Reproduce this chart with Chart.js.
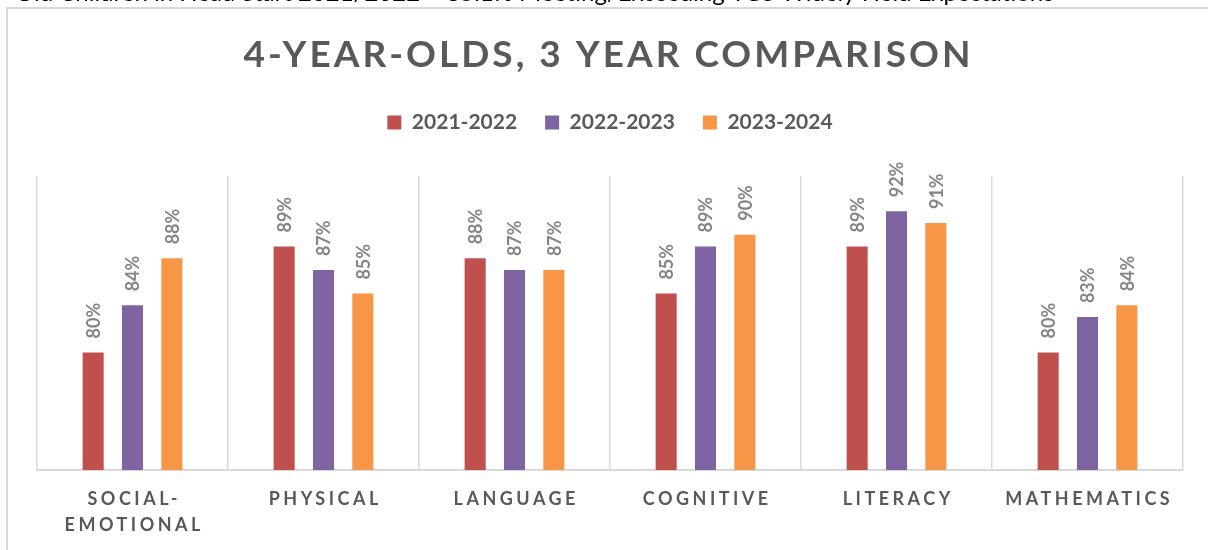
<!DOCTYPE html>
<html>
<head>
<meta charset="utf-8">
<script src="https://cdn.jsdelivr.net/npm/chart.js@4.4.1/dist/chart.umd.min.js"></script>
<style>
html, body { margin: 0; padding: 0; background: #fff; overflow: hidden; }
canvas { display: block; }
</style>
</head>
<body>
<canvas id="myChart" width="1208" height="550"></canvas>
<script>
// data
const categories = [['SOCIAL-', 'EMOTIONAL'], 'PHYSICAL', 'LANGUAGE', 'COGNITIVE', 'LITERACY', 'MATHEMATICS']
const years = ['2021-2022', '2022-2023', '2023-2024']
const values2122 = [80, 89, 88, 85, 89, 80]
const values2223 = [84, 87, 87, 89, 92, 83]
const values2324 = [88, 85, 87, 90, 91, 84]
const barColors = ['#c0504d', '#8064a2', '#f79646']
const chartTitle = '4-YEAR-OLDS, 3 YEAR COMPARISON'
const pageLine = 'Old Children in Head Start 2021/2022 \u2013 85.1% Meeting/Exceeding TGS Widely Held Expectations'

const textGrey = '#595959'

// draws the page line, frame, title, category labels and value labels
const decorations = {
  id: 'decorations',
  beforeDraw(chart) {
    const ctx = chart.ctx
    ctx.save()
    ctx.fillStyle = '#fff'
    ctx.fillRect(0, 0, chart.width, chart.height)
    ctx.fillStyle = '#000'
    ctx.font = '24px Lato'
    ctx.textBaseline = 'alphabetic'
    ctx.textAlign = 'left'
    ctx.fillText(pageLine, 15, 1)
    ctx.strokeStyle = '#d9d9d9'
    ctx.lineWidth = 2
    ctx.strokeRect(7, 8, 1400, 800)
    ctx.restore()
  },
  afterDraw(chart) {
    const ctx = chart.ctx
    const xScale = chart.scales.x

    // title
    ctx.save()
    ctx.fillStyle = textGrey
    ctx.font = 'bold 37px Lato'
    ctx.letterSpacing = '3px'
    ctx.textAlign = 'center'
    ctx.textBaseline = 'middle'
    ctx.fillText(chartTitle, 607 + 1.5, 55)
    ctx.restore()

    // category labels
    ctx.save()
    ctx.fillStyle = textGrey
    ctx.font = 'bold 18px Lato'
    ctx.letterSpacing = '3.5px'
    ctx.textAlign = 'center'
    ctx.textBaseline = 'middle'
    categories.forEach((cat, i) => {
      const lines = Array.isArray(cat) ? cat : [cat]
      const x = xScale.getPixelForValue(i)
      lines.forEach((line, k) => ctx.fillText(line, x + 1.75, xScale.top + 29 + k * 26))
    })
    ctx.restore()

    // rotated value labels
    ctx.save()
    ctx.fillStyle = '#858585'
    ctx.font = 'bold 18px Lato'
    ctx.textAlign = 'left'
    ctx.textBaseline = 'middle'
    chart.data.datasets.forEach((ds, d) => {
      chart.getDatasetMeta(d).data.forEach((bar, i) => {
        ctx.save()
        ctx.translate(bar.x, bar.y - 14)
        ctx.rotate(-Math.PI / 2)
        ctx.fillText(ds.data[i] + '%', 0, 1)
        ctx.restore()
      })
    })
    ctx.restore()
  }
}

new Chart(document.getElementById('myChart'), {
  type: 'bar',
  data: {
    labels: categories,
    datasets: [
      { label: years[0], data: values2122, backgroundColor: barColors[0] },
      { label: years[1], data: values2223, backgroundColor: barColors[1] },
      { label: years[2], data: values2324, backgroundColor: barColors[2] }
    ]
  },
  options: {
    responsive: false,
    animation: false,
    datasets: {
      bar: { categoryPercentage: 0.618, barPercentage: 0.535 }
    },
    layout: { padding: { top: 84, left: 37, right: 25, bottom: 0 } },
    plugins: {
      tooltip: { enabled: false },
      legend: {
        position: 'top',
        labels: {
          boxWidth: 14,
          boxHeight: 14,
          padding: 28,
          color: textGrey,
          font: { family: 'Lato', size: 21, weight: 'bold' }
        }
      }
    },
    scales: {
      x: {
        offset: true,
        grid: { display: true, offset: true, color: '#d9d9d9', lineWidth: 1.5, drawTicks: false },
        border: { display: true, color: '#d9d9d9', width: 2 },
        ticks: { display: false },
        afterFit(scale) { scale.height = 80 }
      },
      xTop: {
        type: 'category',
        labels: [''],
        position: 'top',
        grid: { display: false },
        border: { display: false },
        ticks: { display: false },
        afterFit(scale) { scale.height = 33 }
      },
      y: {
        display: false,
        min: 70,
        max: 95
      }
    }
  },
  plugins: [decorations]
})
</script>
</body>
</html>
